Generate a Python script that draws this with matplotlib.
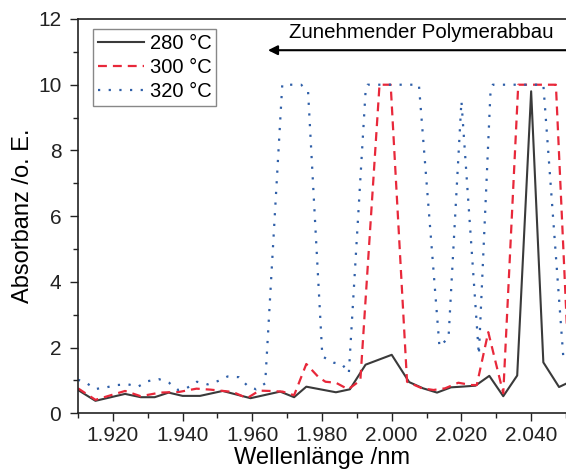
import matplotlib
matplotlib.use("Agg")
import matplotlib.pyplot as plt
from matplotlib.ticker import MultipleLocator, FuncFormatter

plt.rcParams['font.family'] = ['Liberation Sans', 'DejaVu Sans']

# 280 °C
black_x = [1910, 1915, 1923.5, 1928, 1932, 1936, 1940, 1945, 1951.5, 1959.5, 1968, 1972,
           1975.5, 1984, 1988, 1992.5, 2000, 2005, 2009, 2013, 2017, 2020, 2024, 2028,
           2032, 2036, 2040, 2043.5, 2048, 2050]
black_y = [0.71, 0.38, 0.59, 0.49, 0.49, 0.63, 0.53, 0.53, 0.68, 0.46, 0.66, 0.49,
           0.81, 0.64, 0.73, 1.48, 1.78, 0.95, 0.76, 0.63, 0.79, 0.81, 0.84, 1.14,
           0.52, 1.15, 9.8, 1.55, 0.8, 0.9]

# 300 °C
red_x = [1910, 1915, 1923.5, 1928, 1933.5, 1939, 1944, 1948, 1954.4, 1958.5, 1962, 1965,
         1968.7, 1972, 1975.5, 1979, 1981, 1984, 1987.5, 1991, 1996.5, 1999.7, 2004.4,
         2008.7, 2012, 2015.3, 2019.1, 2022.9, 2024.4, 2027.7, 2032, 2036.3, 2047.1, 2051]
red_y = [0.76, 0.41, 0.68, 0.52, 0.63, 0.65, 0.75, 0.72, 0.65, 0.46, 0.69, 0.68,
         0.66, 0.55, 1.5, 1.1, 0.96, 0.93, 0.73, 1.0, 10, 10, 0.96,
         0.76, 0.71, 0.76, 0.93, 0.86, 0.86, 2.47, 0.61, 10, 10, 0.9]

# 320 °C
blue_x = [1910, 1912, 1915, 1917.7, 1921.1, 1924.4, 1927.2, 1930.1, 1933.2, 1936.1, 1938.7,
          1941.1, 1944.1, 1947.2, 1950.1, 1952.9, 1956.1, 1958.7, 1961.1, 1963.7, 1968.6,
          1974, 1976, 1980.1, 1983.4, 1985.8, 1987.7, 1992.5, 1993.1, 2007.8, 2013.7,
          2016.3, 2020, 2025, 2028.3, 2029, 2043.5, 2049.2, 2050]
blue_y = [1.02, 0.95, 0.74, 0.78, 0.86, 0.88, 0.81, 0.98, 1.04, 0.93, 0.71,
          0.76, 0.96, 0.88, 0.98, 1.12, 1.10, 0.83, 0.73, 0.91, 10,
          10, 9.8, 1.73, 1.54, 1.49, 1.22, 9.8, 10, 10, 2.03,
          2.3, 9.5, 1.78, 9.7, 10, 10, 1.75, 1.7]

labels = ['280 °C', '300 °C', '320 °C']

fig = plt.figure(figsize=(5.66, 4.70), dpi=100)
ax = fig.add_axes([78/566, 1 - 413.3/470, 1 - 78/566, (413.3 - 19)/470])

ax.plot(black_x, black_y, color='#3a3a3a', lw=1.5, label=labels[0])
ax.plot(red_x, red_y, color='#e8283a', lw=1.6, linestyle=(0, (4, 2.7)), label=labels[1])
ax.plot(blue_x, blue_y, color='#2f5fa8', lw=1.6, linestyle=(0, (1, 3.8)), label=labels[2])

ax.set_xlim(1910, 2050)
ax.set_ylim(0, 12)
ax.xaxis.set_major_locator(MultipleLocator(20))
ax.xaxis.set_minor_locator(MultipleLocator(10))
ax.yaxis.set_major_locator(MultipleLocator(2))
ax.yaxis.set_minor_locator(MultipleLocator(1))
ax.xaxis.set_major_formatter(FuncFormatter(lambda v, p: f"{int(round(v)):,}".replace(',', '.')))
ax.tick_params(which='major', direction='out', length=6, width=1, labelsize=15, colors='#222222')
ax.tick_params(axis='y', which='major', pad=6)
ax.tick_params(which='minor', direction='out', length=3.5, width=1, colors='#222222')
ax.spines['right'].set_visible(False)
for s in ['left', 'bottom', 'top']:
    ax.spines[s].set_linewidth(1.2)
    ax.spines[s].set_color('#222222')

ax.set_xlabel('Wellenlänge /nm', fontsize=17, labelpad=1)
ax.set_ylabel('Absorbanz /o. E.', fontsize=17, labelpad=3)

leg = ax.legend(loc='upper left', bbox_to_anchor=(0.031, 0.974), borderaxespad=0,
                fontsize=14.5, handlelength=2.3, handletextpad=0.25, labelspacing=0.25,
                fancybox=False, edgecolor='#888888', framealpha=1, borderpad=0.25)
leg.get_frame().set_linewidth(1.0)

ax.annotate('', xy=(1963.7, 11.05), xytext=(2051, 11.05),
            arrowprops=dict(arrowstyle='-|>', color='black', lw=1.5, mutation_scale=14),
            annotation_clip=False)
ax.text(2008.5, 11.6, 'Zunehmender Polymerabbau', fontsize=14.7, ha='center', va='center')

fig.savefig('out.png', dpi=100)
